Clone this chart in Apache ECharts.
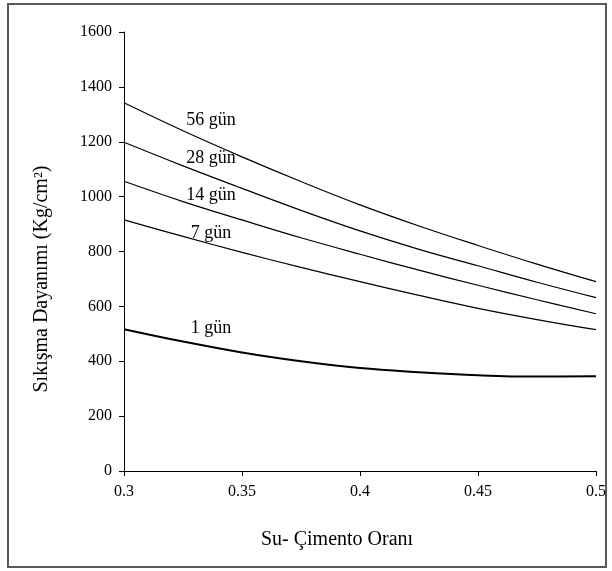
<!DOCTYPE html>
<html>
<head>
<meta charset="utf-8">
<script src="https://cdn.jsdelivr.net/npm/echarts@6/dist/echarts.min.js"></script>
<style>
html,body{margin:0;padding:0;background:#fff;}
#chart{width:612px;height:571px;}
</style>
</head>
<body>
<div id="chart"></div>
<script>
// Water-cement ratio (x) sample points
var ratios = [0.3, 0.325, 0.35, 0.375, 0.4, 0.425, 0.45, 0.475, 0.5];
// Compressive strength (Kg/cm²) per curing age
var gun56 = [1342, 1240, 1145, 1055, 970, 893, 822, 754, 690];
var gun28 = [1198, 1112, 1030, 950, 875, 808, 748, 688, 632];
var gun14 = [1056, 982, 915, 850, 790, 732, 677, 624, 573];
var gun7  = [915, 855, 797, 742, 690, 640, 593, 552, 515];
var gun1  = [517, 472, 432, 400, 375, 360, 349, 344, 345];
var seriesNames = ['56 gün', '28 gün', '14 gün', '7 gün', '1 gün'];
var yTicks = [0, 200, 400, 600, 800, 1000, 1200, 1400, 1600];
var xTicks = ['0.3', '0.35', '0.4', '0.45', '0.5'];

var FONT = '"Liberation Serif", "Times New Roman", serif';
var chart = echarts.init(document.getElementById('chart'), null, {renderer: 'canvas'});

function pairs(vals) {
  return ratios.map(function (r, i) { return [r, vals[i]]; });
}
// label anchor points (data coordinates) for the curve annotations
var labelCoords = [[0.3369, 1279], [0.3369, 1140], [0.3369, 1006], [0.3369, 868], [0.3369, 520]];
var allVals = [gun56, gun28, gun14, gun7, gun1];

var series = allVals.map(function (vals, i) {
  return {
    name: seriesNames[i],
    type: 'line',
    smooth: 0.4,
    showSymbol: false,
    silent: true,
    data: pairs(vals),
    lineStyle: {color: '#000', width: i === 4 ? 2 : 1.2},
    markPoint: {
      symbol: 'circle',
      symbolSize: 1,
      itemStyle: {color: 'rgba(0,0,0,0)'},
      label: {
        show: true,
        position: 'inside',
        formatter: seriesNames[i],
        color: '#000',
        fontFamily: FONT,
        fontSize: 18
      },
      data: [{coord: labelCoords[i]}]
    }
  };
});

chart.setOption({
  animation: false,
  backgroundColor: '#fff',
  grid: {left: 124, right: 16, top: 32, bottom: 100},
  xAxis: {
    type: 'value',
    min: 0.3, max: 0.5, interval: 0.05,
    axisLine: {lineStyle: {color: '#000', width: 1}},
    axisTick: {show: true, length: 5, inside: false, lineStyle: {color: '#000'}},
    splitLine: {show: false},
    axisLabel: {
      color: '#000', fontFamily: FONT, fontSize: 16, margin: 13,
      formatter: function (v) {
        var idx = Math.round((v - 0.3) / 0.05);
        return xTicks[idx] !== undefined ? xTicks[idx] : '';
      }
    }
  },
  yAxis: {
    type: 'value',
    min: 0, max: 1600, interval: 200,
    axisLine: {show: true, lineStyle: {color: '#000', width: 1}},
    axisTick: {show: true, length: 5, inside: false, lineStyle: {color: '#000'}},
    splitLine: {show: false},
    axisLabel: {
      color: '#000', fontFamily: FONT, fontSize: 16, margin: 12,
      formatter: function (v) {
        var idx = Math.round(v / 200);
        return yTicks[idx] !== undefined ? String(yTicks[idx]) : '';
      }
    }
  },
  graphic: [
    {
      type: 'rect',
      shape: {x: 8, y: 4, width: 598, height: 563},
      style: {fill: 'none', stroke: '#5a5a5a', lineWidth: 2},
      silent: true
    },
    {
      type: 'text',
      x: 337, y: 540,
      style: {
        text: 'Su- Çimento Oranı',
        font: '20px ' + FONT,
        fill: '#000',
        textAlign: 'center',
        textVerticalAlign: 'middle'
      }
    },
    {
      type: 'text',
      x: 42, y: 279,
      rotation: Math.PI / 2,
      style: {
        text: 'Sıkışma Dayanımı (Kg/cm²)',
        font: '20px ' + FONT,
        fill: '#000',
        textAlign: 'center',
        textVerticalAlign: 'middle'
      }
    }
  ],
  series: series
});
</script>
</body>
</html>
